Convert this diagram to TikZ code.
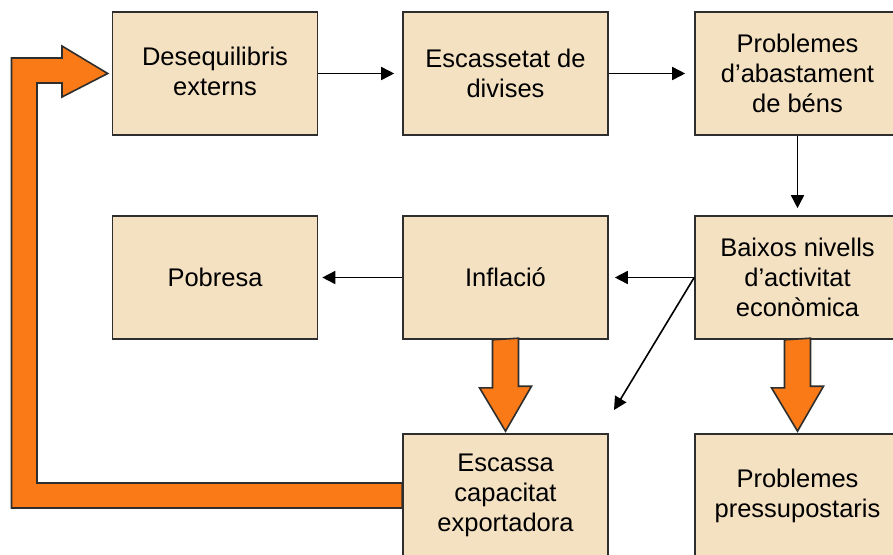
\documentclass[tikz,border=0pt]{standalone}
\usepackage{fontspec}
\setmainfont{Liberation Sans}
\usetikzlibrary{arrows.meta}
\definecolor{caixafons}{HTML}{F4E1C2}
\definecolor{taronja}{HTML}{F97A16}
\definecolor{vora}{HTML}{2E2E2E}
\tikzset{
  caixa/.style={draw=vora, line width=1.6pt, fill=caixafons, minimum width=205pt,
    minimum height=123pt, align=center, inner sep=0pt,
    font=\fontsize{25.5}{30}\selectfont},
  fletxa/.style={-{Triangle[length=13pt,width=13pt]}, line width=1.6pt, draw=black},
  gruixuda/.style={fill=taronja, draw=vora, line width=1.6pt, line join=miter}
}
\begin{document}
\begin{tikzpicture}[x=1pt,y=-1pt]
	\useasboundingbox (0,0) rectangle (893,554);
	\node[caixa] (deseq) at (215,73.5) {Desequilibris\\externs\vphantom{p}};
	\node[caixa] (divises) at (505.5,73.5) {Escassetat de\\divises};
	\node[caixa] (abast) at (797.5,73.5) {Problemes\\d’abastament\\de béns};
	\node[caixa] (pobresa) at (215,277.5) {Pobresa};
	\node[caixa] (inflacio) at (505.5,277.5) {Inflació};
	\node[caixa] (baixos) at (797.5,277.5) {Baixos nivells\\d’activitat\\econòmica};
	\node[caixa] (escassa) at (505.5,495.5) {Escassa\\capacitat\\exportadora};
	\node[caixa] (pressu) at (797.5,495.5) {Problemes\\pressupostaris};
	\coordinate (lliure) at (614,410);
	\draw[fletxa, shorten >=8pt] (deseq.east) -- (divises.west);
	\draw[fletxa, shorten >=9pt] (divises.east) -- (abast.west);
	\draw[fletxa, shorten >=7pt] (abast.south) -- (baixos.north);
	\draw[fletxa, shorten >=6pt] (baixos.west) -- (inflacio.east);
	\draw[fletxa, shorten >=4pt] (inflacio.west) -- (pobresa.east);
	\draw[fletxa] (baixos.west) -- (lliure);
	% fletxes taronja
	\draw[gruixuda] (inflacio.south) ++(-13,0) -- ++(0,48) -- ++(-13,0)
		-- ([yshift=2pt]escassa.north) -- ++(26,-45) -- ++(-13,0) -- ++(0,-48) -- cycle;
	\draw[gruixuda] (baixos.south) ++(-13,0) -- ++(0,48) -- ++(-13,0)
		-- ([yshift=2pt]pressu.north) -- ++(26,-45) -- ++(-13,0) -- ++(0,-48) -- cycle;
	\draw[gruixuda] ([yshift=12.5pt]escassa.west) -- (37,483) -- (37,83) -- (62,83)
		-- (62,97) -- ([xshift=-4pt]deseq.west) -- (62,46) -- (62,58) -- (11.5,58)
		-- (11.5,508) -- ([yshift=-12.5pt]escassa.west) -- cycle;
\end{tikzpicture}
\end{document}
